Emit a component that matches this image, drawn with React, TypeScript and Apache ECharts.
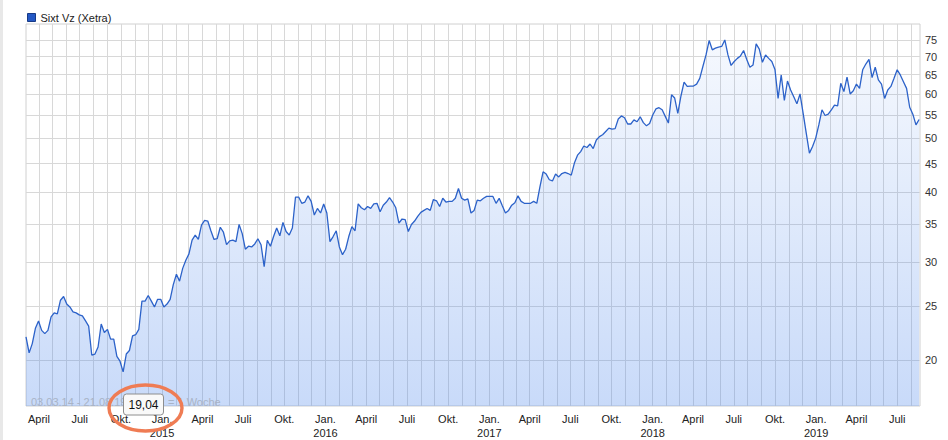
import React, { useEffect, useRef } from 'react';
import * as echarts from 'echarts';

const SERIES_NAME = 'Sixt Vz (Xetra)';
const RANGE_TEXT = '03.03.14 - 21.08.19';
const PERIOD_TEXT = '= 1 Woche';
const MIN_LABEL = '19,04';
const FIRST_WEEK = [2014, 2, 3]; // 03.03.14, weekly closes from here
const LAST_DAY = [2019, 7, 21]; // 21.08.19
const Y_TICKS = [20, 25, 30, 35, 40, 45, 50, 55, 60, 65, 70, 75];
const QUARTER_NAMES: Record<number, string> = { 0: 'Jan.', 3: 'April', 6: 'Juli', 9: 'Okt.' };

// weekly closes
const closes2014 = [
  22.0, 20.6, 21.4, 22.8, 23.5, 22.6, 22.3, 22.6, 23.9, 24.3,
  24.2, 25.6, 26.0, 25.2, 24.9, 24.4, 24.3, 24.1, 24.0, 23.5,
  23.0, 20.4, 20.5, 21.1, 23.2, 22.4, 22.7, 21.8, 21.8, 20.3,
  19.9, 19.04, 20.5, 20.8, 22.1, 22.2, 22.7, 25.5, 25.5, 26.1,
  25.5, 24.9, 25.7, 25.7,
];
const closes2015 = [
  24.9, 25.2, 25.7, 27.3, 28.5, 27.7,
  29.2, 30.2, 31.0, 32.8, 33.5, 32.9, 34.9, 35.6, 35.5, 34.1,
  32.9, 33.0, 34.6, 33.9, 32.2, 32.7, 32.8, 32.6, 35.0, 33.7,
  31.6, 32.0, 31.9, 32.3, 33.0, 32.2, 29.4, 32.8, 32.0, 33.3,
  34.5, 33.4, 35.3, 34.0, 33.5, 34.5, 39.2, 39.2, 38.2, 38.4,
  39.4, 38.5, 36.4, 37.4, 36.7, 38.1,
];
const closes2016 = [
  36.7, 32.6, 33.3, 34.1,
  31.9, 30.9, 31.6, 33.3, 34.7, 34.1, 38.1, 37.5, 37.2, 37.7,
  37.4, 38.1, 38.2, 36.9, 37.9, 38.4, 39.1, 38.4, 37.5, 35.2,
  35.8, 35.7, 34.0, 35.0, 35.5, 36.2, 36.8, 37.1, 37.4, 37.1,
  38.8, 38.6, 37.7, 39.0, 38.4, 38.5, 38.5, 39.0, 40.6, 39.0,
  38.7, 38.9, 36.7, 37.1, 38.7, 38.6, 39.0, 39.3,
];
const closes2017 = [
  39.3, 39.3,
  38.2, 39.0, 37.8, 36.7, 37.1, 37.9, 38.3, 39.4, 38.5, 38.2,
  38.2, 38.2, 38.5, 38.2, 40.9, 43.5, 43.1, 42.1, 41.9, 43.1,
  42.6, 43.2, 43.4, 43.2, 42.9, 45.1, 46.6, 47.3, 48.4, 48.1,
  48.8, 47.9, 49.6, 50.3, 50.7, 51.4, 52.1, 51.9, 52.0, 54.1,
  54.8, 54.4, 53.0, 53.0, 53.9, 53.5, 54.6, 53.3, 52.6, 53.1,
];
const closes2018 = [
  55.0, 56.4, 56.7, 56.2, 54.7, 53.2, 59.8, 59.0, 55.4, 59.5,
  63.0, 61.9, 62.0, 62.0, 62.5, 64.0, 67.2, 70.5, 74.8, 72.0,
  72.5, 72.8, 73.0, 75.0, 70.5, 67.5, 68.6, 69.5, 70.2, 71.8,
  69.2, 67.0, 67.6, 73.8, 72.2, 68.4, 70.5, 69.5, 68.6, 66.4,
  58.9, 64.9, 58.4, 63.3, 61.0, 59.3, 57.6, 60.0, 55.4, 51.0,
  47.0, 48.3, 50.0,
];
const closes2019 = [
  52.8, 56.2, 54.9, 55.2, 56.2, 57.3, 57.1,
  62.7, 60.6, 64.3, 60.0, 60.8, 62.5, 61.4, 66.3, 67.9, 69.2,
  64.2, 67.0, 63.6, 62.5, 58.9, 61.0, 61.9, 64.0, 66.3, 64.9,
  63.1, 61.4, 56.8, 55.2, 52.8, 54.0,
];

const FONT = '"Liberation Sans", Arial, sans-serif';

export default function App() {
  const ref = useRef<HTMLDivElement>(null);

  useEffect(() => {
    const el = ref.current;
    if (!el) return;
    const chart = echarts.init(el, null, { renderer: 'svg' });

    const closes = [
      ...closes2014, ...closes2015, ...closes2016,
      ...closes2017, ...closes2018, ...closes2019,
    ];
    const data = closes.map((v, i) => [
      new Date(FIRST_WEEK[0], FIRST_WEEK[1], FIRST_WEEK[2] + 7 * i).getTime(),
      v,
    ]);
    const xMin = new Date(FIRST_WEEK[0], FIRST_WEEK[1], FIRST_WEEK[2]).getTime();
    const xMax = new Date(LAST_DAY[0], LAST_DAY[1], LAST_DAY[2]).getTime();

    const monthStarts: number[] = [];
    const quarterStarts: number[] = [];
    for (let y = FIRST_WEEK[0], m = FIRST_WEEK[1] + 1; ; m++) {
      if (m > 11) { m = 0; y++; }
      const t = new Date(y, m, 1).getTime();
      if (t > xMax) break;
      monthStarts.push(t);
      if (m % 3 === 0) quarterStarts.push(t);
    }

    chart.setOption({
      animation: false,
      backgroundColor: '#ffffff',
      textStyle: { fontFamily: FONT },
      legend: {
        left: 22,
        top: 7,
        icon: 'rect',
        itemWidth: 8,
        itemHeight: 8,
        itemGap: 10,
        data: [SERIES_NAME],
        itemStyle: { color: '#2458c4', borderColor: '#173a86', borderWidth: 1 },
        textStyle: { fontSize: 11, color: '#222', fontFamily: FONT },
      },
      grid: {
        left: 26,
        right: 28,
        top: 24,
        bottom: 34,
        show: true,
        borderColor: '#d0d0d0',
        borderWidth: 1,
        backgroundColor: 'transparent',
      },
      xAxis: {
        type: 'value',
        min: xMin,
        max: xMax,
        axisLine: { show: false },
        axisTick: { show: false, customValues: monthStarts },
        splitLine: { show: true, lineStyle: { color: '#d8d8d8', width: 1 } },
        axisLabel: {
          customValues: quarterStarts,
          hideOverlap: false,
          margin: 6,
          fontSize: 11,
          lineHeight: 14,
          color: '#222',
          fontFamily: FONT,
          formatter: (v: number) => {
            const d = new Date(v);
            const name = QUARTER_NAMES[d.getMonth()];
            return d.getMonth() === 0 ? name + '\n' + d.getFullYear() : name;
          },
        },
      },
      yAxis: {
        type: 'log',
        logBase: 10,
        position: 'right',
        min: 16.54,
        max: 80.1,
        axisLine: { show: false },
        axisTick: { show: false, customValues: Y_TICKS },
        splitLine: { show: true, lineStyle: { color: '#d8d8d8', width: 1 } },
        axisLabel: {
          customValues: Y_TICKS,
          margin: 5,
          fontSize: 11,
          color: '#333',
          fontFamily: FONT,
          formatter: (v: number) => String(Math.round(v)),
        },
      },
      series: [
        {
          name: SERIES_NAME,
          type: 'line',
          data,
          showSymbol: false,
          symbol: 'none',
          itemStyle: { color: '#2c62c9' },
          lineStyle: { color: '#2c62c9', width: 1.3 },
          areaStyle: {
            origin: 'start',
            color: {
              type: 'linear',
              x: 0, y: 24, x2: 0, y2: 406,
              global: true,
              colorStops: [
                { offset: 0, color: 'rgba(70,130,235,0.06)' },
                { offset: 1, color: 'rgba(70,130,235,0.42)' },
              ],
            },
          },
        },
      ],
      graphic: [
        {
          type: 'rect',
          left: 0,
          top: 0,
          shape: { width: 3, height: 440 },
          style: { fill: '#e8e8e8' },
          z: 100,
        },
        {
          type: 'text',
          left: 31,
          top: 396,
          style: { text: RANGE_TEXT, fill: '#a8b3c6', font: '11px ' + FONT },
          z: 100,
        },
        {
          type: 'text',
          left: 168,
          top: 396,
          style: { text: PERIOD_TEXT, fill: '#a8b3c6', font: '11px ' + FONT },
          z: 100,
        },
        {
          type: 'rect',
          shape: { x: 123.5, y: 394, width: 40, height: 21, r: 3 },
          style: { fill: '#f9f9f9', stroke: '#8e8e8e', lineWidth: 1 },
          z: 101,
        },
        {
          type: 'text',
          x: 143.5,
          y: 404.5,
          style: {
            text: MIN_LABEL, fill: '#111', font: '12px ' + FONT,
            align: 'center', verticalAlign: 'middle',
          },
          z: 102,
        },
        {
          type: 'ellipse',
          shape: { cx: 145.5, cy: 408, rx: 36.5, ry: 23 },
          style: { fill: 'none', stroke: '#ef7c54', lineWidth: 3.4 },
          z: 103,
        },
      ],
    });

    return () => chart.dispose();
  }, []);

  return (
    <div
      ref={ref}
      style={{ position: 'absolute', left: 0, top: 0, width: 948, height: 440 }}
    />
  );
}
